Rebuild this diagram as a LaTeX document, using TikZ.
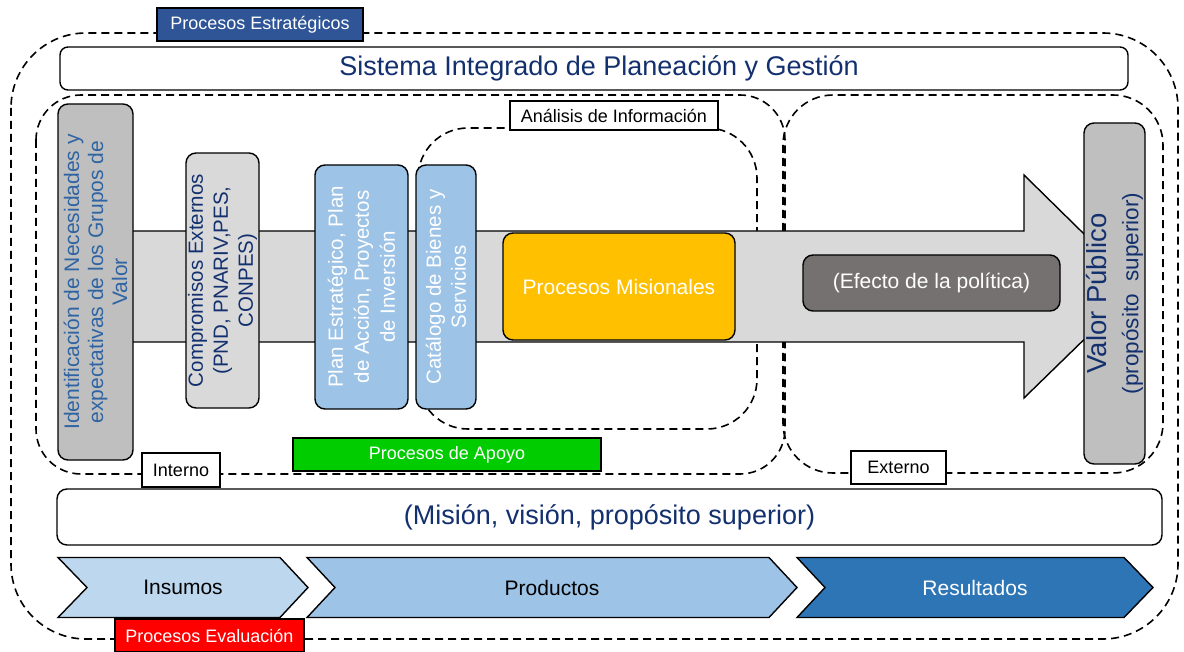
\documentclass[tikz,border=0pt]{standalone}
\usepackage{fontspec}
\setmainfont{Liberation Sans}
\definecolor{stratblue}{HTML}{2F5597}
\definecolor{navy}{HTML}{13306E}
\definecolor{steel}{HTML}{2F64A3}
\definecolor{gA}{HTML}{BFBFBF}
\definecolor{gB}{HTML}{D9D9D9}
\definecolor{lblue}{HTML}{9DC3E6}
\definecolor{llblue}{HTML}{BDD7EE}
\definecolor{dblue}{HTML}{2E75B6}
\definecolor{gold}{HTML}{FFC000}
\definecolor{dgray}{HTML}{767171}
\definecolor{apoyo}{HTML}{00CC00}
\newcommand\fsz[2]{\fontsize{#1}{#2}\selectfont}
\tikzset{
  box/.style={draw=black, line width=1.4pt, rounded corners=10pt, inner sep=0pt, align=center},
  lbl/.style={draw=black, line width=1.4pt, inner sep=0pt, align=center, font=\fsz{18}{21}},
  region/.style={draw=black, line width=1.6pt, dash pattern=on 8pt off 5pt, rounded corners=#1},
  chev/.style={draw=black, line width=1.4pt},
}
\begin{document}
\begin{tikzpicture}[x=1pt,y=-1pt]
\useasboundingbox (0,0) rectangle (1184,652);
% outer dashed
\draw[region=75pt] (11,33) rectangle (1178,639);
% Sistema
\node[box, rounded corners=8pt, fill=white, minimum width=1068pt, minimum height=43pt, text=navy, font=\fsz{27}{31}] (sig) at (594,68.5) {\hspace*{10pt}Sistema Integrado de Planeación y Gestión};
% regions
\draw[region=45pt] (36,95) rectangle (785,474);
\draw[region=50pt] (783,95) rectangle (1163,473);
\draw[region=50pt] (418,128) rectangle (757,429);
% big arrow
\draw[fill=gB, line width=1.4pt] (100,231) -- (1024,231) -- (1024,175) -- (1138,287) -- (1024,398) -- (1024,342) -- (100,342) -- cycle;
% strategic label
\node[lbl, fill=stratblue, text=white, minimum width=206pt, minimum height=33pt] (strat) at (260,24.5) {Procesos Estratégicos};
% vertical boxes
\node[box, fill=gA, rotate=90, minimum width=356pt, minimum height=75pt, text=steel, font=\fsz{21}{24}] (ident) at (95.5,282) {Identificación de Necesidades y\\expectativas de los Grupos de\\Valor};
\node[box, fill=gB, rotate=90, minimum width=255pt, minimum height=73pt, text=navy, font=\fsz{20.5}{25}] (comp) at (222.5,280.5) {Compromisos Externos\\(PND, PNARIV,PES,\\CONPES)};
\node[box, fill=lblue, rotate=90, minimum width=244pt, minimum height=93pt, text=white, font=\fsz{20.5}{26}] (plan) at (361.5,287) {Plan Estratégico, Plan\\de Acción, Proyectos\\de Inversión};
\node[box, fill=lblue, rotate=90, minimum width=244pt, minimum height=60pt, text=white, font=\fsz{20.5}{25}] (cat) at (446,287) {Catálogo de Bienes y\\Servicios};
\node[box, fill=gold, minimum width=232pt, minimum height=107pt, text=white, font=\fsz{21}{25}] (mis) at (619,286.5) {Procesos Misionales};
\node[box, fill=dgray, minimum width=257pt, minimum height=56pt, text=white, font=\fsz{21}{25}] (efe) at (931.5,283) {(Efecto de la política)};
\node[box, fill=gA, rotate=90, minimum width=341pt, minimum height=61pt, text=navy, font=\fsz{27.5}{32}] (valor) at (1114.5,293.5) {Valor Público\\{\fsz{22.5}{26}(propósito\ \ superior)}};
% labels
\node[lbl, fill=white, minimum width=208pt, minimum height=29pt] (ana) at (614,115.5) {Análisis de Información};
\node[lbl, fill=apoyo, text=white, minimum width=308pt, minimum height=33pt] (apo) at (447,454.5) {Procesos de Apoyo};
\node[lbl, fill=white, minimum width=78pt, minimum height=34pt] (int) at (181,470) {Interno};
\node[lbl, fill=white, minimum width=95pt, minimum height=33pt] (ext) at (898.5,467.5) {Externo};
% mision
\node[box, fill=white, minimum width=1105pt, minimum height=56pt, text=navy, font=\fsz{27}{31}] (mision) at (609.5,517) {(Misión, visión, propósito superior)};
% chevrons
\draw[chev, fill=llblue] (58,557.5) -- (280,557.5) -- (308,587.5) -- (280,617.5) -- (58,617.5) -- (87,587.5) -- cycle;
\draw[chev, fill=lblue] (307,557.5) -- (769,557.5) -- (797,587.5) -- (769,617.5) -- (307,617.5) -- (335,587.5) -- cycle;
\draw[chev, fill=dblue] (797,557.5) -- (1124,557.5) -- (1153,587.5) -- (1124,617.5) -- (797,617.5) -- (825,587.5) -- cycle;
\node[font=\fsz{21}{25}] (ins) at (183,587.5) {Insumos};
\node[font=\fsz{21}{25}] (prod) at (552,587.5) {Productos};
\node[font=\fsz{21}{25}, text=white] (res) at (975,587.5) {Resultados};
% evaluacion
\node[lbl, fill=red, text=white, minimum width=189pt, minimum height=33pt] (eva) at (209.5,635.5) {Procesos Evaluación};
\end{tikzpicture}
\end{document}
